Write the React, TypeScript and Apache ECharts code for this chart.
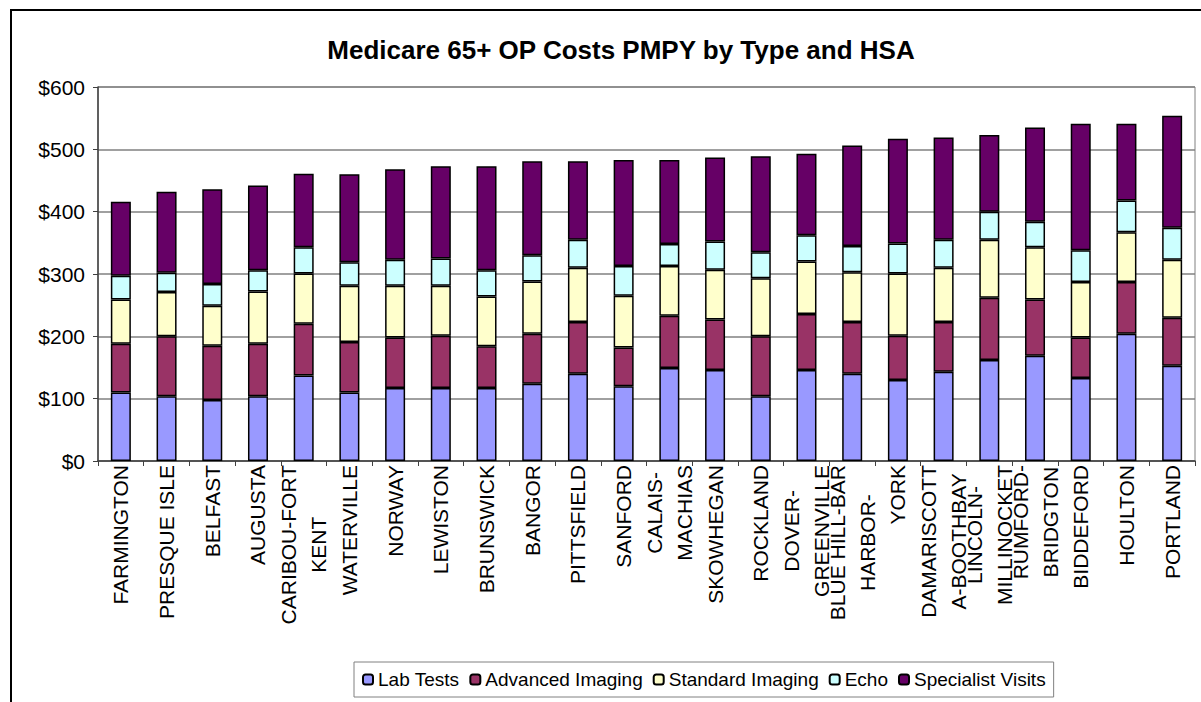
import React, { useEffect, useRef } from "react";
import * as echarts from "echarts";

const categories = [
  "FARMINGTON",
  "PRESQUE ISLE",
  "BELFAST",
  "AUGUSTA",
  "CARIBOU-FORT\nKENT",
  "WATERVILLE",
  "NORWAY",
  "LEWISTON",
  "BRUNSWICK",
  "BANGOR",
  "PITTSFIELD",
  "SANFORD",
  "CALAIS-\nMACHIAS",
  "SKOWHEGAN",
  "ROCKLAND",
  "DOVER-\nGREENVILLE",
  "BLUE HILL-BAR\nHARBOR-",
  "YORK",
  "DAMARISCOTT\nA-BOOTHBAY",
  "LINCOLN-\nMILLINOCKET",
  "RUMFORD-\nBRIDGTON",
  "BIDDEFORD",
  "HOULTON",
  "PORTLAND",
];

const labTests = [110, 104, 98, 104, 137, 110, 117, 117, 117, 124, 140, 120, 149, 146, 104, 146, 140, 130, 143, 162, 169, 133, 204, 153];
const advancedImaging = [78, 96, 87, 84, 83, 81, 81, 84, 67, 80, 83, 62, 84, 81, 96, 90, 83, 71, 80, 100, 90, 65, 83, 77];
const standardImaging = [71, 71, 64, 84, 81, 90, 83, 80, 80, 84, 87, 83, 80, 80, 93, 84, 80, 100, 87, 93, 84, 89, 80, 93];
const echo = [38, 31, 35, 34, 42, 38, 42, 44, 42, 42, 45, 48, 35, 45, 42, 42, 42, 48, 45, 45, 41, 51, 51, 51];
const specialistVisits = [119, 130, 152, 136, 118, 141, 145, 148, 167, 151, 126, 170, 135, 135, 154, 131, 161, 168, 164, 123, 151, 203, 123, 180];

const seriesNames = ["Lab Tests", "Advanced Imaging", "Standard Imaging", "Echo", "Specialist Visits"];
const seriesColors = ["#9999FF", "#993366", "#FFFFCC", "#CCFFFF", "#660066"];
const seriesData = [labTests, advancedImaging, standardImaging, echo, specialistVisits];

const yTicks = [0, 100, 200, 300, 400, 500, 600];

const FONT = "'Liberation Sans', Arial, sans-serif";

export default function App() {
  const ref = useRef<HTMLDivElement>(null);

  useEffect(() => {
    if (!ref.current) return;
    const chart = echarts.init(ref.current, undefined, { renderer: "svg" });
    chart.setOption({
      animation: false,
      backgroundColor: "#ffffff",
      textStyle: { fontFamily: FONT },
      title: {
        text: "Medicare 65+ OP Costs PMPY by Type and HSA",
        left: 616,
        top: 32,
        textAlign: "center",
        textStyle: { fontFamily: FONT, fontSize: 26, fontWeight: "bold", color: "#000" },
      },
      legend: {
        data: seriesNames,
        left: 354,
        top: 662,
        padding: [8, 8, 8, 8],
        itemGap: 10,
        itemWidth: 10,
        itemHeight: 10,
        borderColor: "#808080",
        borderWidth: 1,
        textStyle: { fontFamily: FONT, fontSize: 19, color: "#000" },
      },
      grid: {
        left: 98,
        right: 6,
        top: 87,
        bottom: 241,
        show: true,
        borderColor: "#808080",
        borderWidth: 1,
        containLabel: false,
      },
      xAxis: {
        type: "category",
        data: categories,
        axisLine: { show: true, lineStyle: { color: "#404040", width: 1.5 } },
        axisTick: { show: true, length: 5, lineStyle: { color: "#404040" } },
        axisLabel: {
          interval: 0,
          rotate: 90,
          margin: 4,
          color: "#000",
          formatter: (v: string) => v.split("\n").map((l) => `{c|${l}}`).join("\n"),
          rich: {
            c: { align: "center", fontSize: 21, fontFamily: FONT, color: "#000", lineHeight: 30 },
          },
        },
      },
      yAxis: {
        type: "value",
        min: yTicks[0],
        max: yTicks[yTicks.length - 1],
        interval: 100,
        axisLine: { show: true, lineStyle: { color: "#404040", width: 1.5 } },
        axisTick: { show: true, length: 5, lineStyle: { color: "#404040" } },
        axisLabel: {
          margin: 13,
          color: "#000",
          fontSize: 21,
          fontFamily: FONT,
          formatter: (v: number) => "$" + v,
        },
        splitLine: { show: true, lineStyle: { color: "#808080", width: 1.5 } },
      },
      graphic: [
        {
          type: "rect",
          silent: true,
          z: 100,
          shape: { x: 11, y: 10, width: 1300, height: 900 },
          style: { fill: "none", stroke: "#000", lineWidth: 2 },
        },
      ],
      series: seriesNames.map((name, i) => ({
        name,
        type: "bar",
        stack: "total",
        barWidth: 20,
        data: seriesData[i],
        itemStyle: { color: seriesColors[i], borderColor: "#000", borderWidth: 1.5 },
      })),
    });
    return () => chart.dispose();
  }, []);

  return (
    <div
      ref={ref}
      style={{ position: "fixed", left: 0, top: 0, width: 1201, height: 702 }}
    />
  );
}
